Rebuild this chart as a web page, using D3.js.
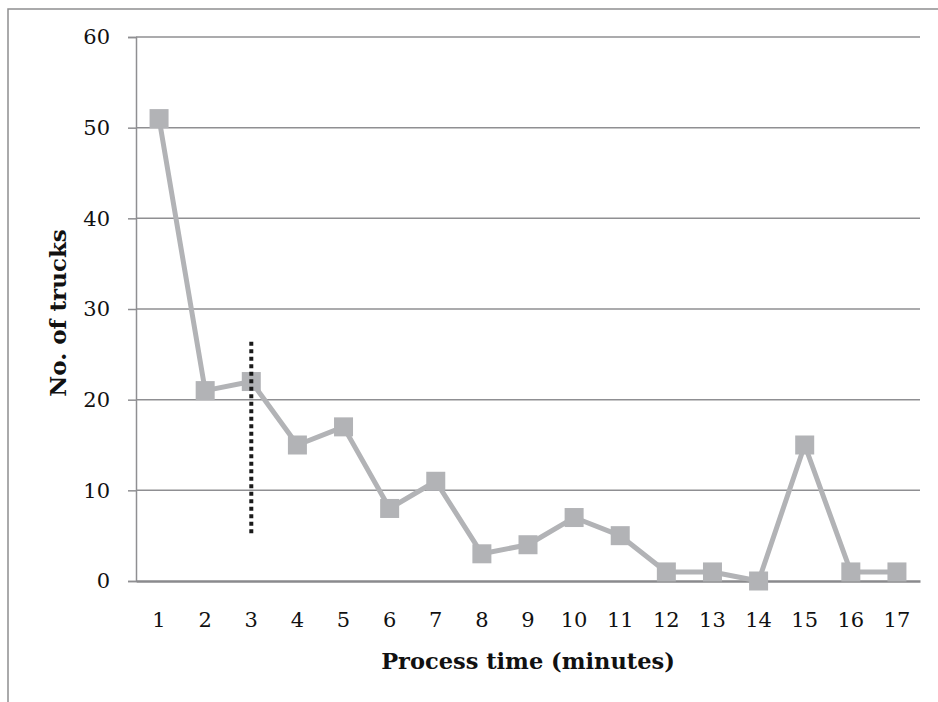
<!DOCTYPE html>
<html>
<head>
<meta charset="utf-8">
<script src="https://cdn.jsdelivr.net/npm/d3@7"></script>
<style>
  html, body { margin: 0; padding: 0; background: #fff; }
  svg { display: block; }
  text { font-family: "DejaVu Serif", "Liberation Serif", serif; fill: #111; }
</style>
</head>
<body>
<svg id="chart" width="938" height="702"></svg>
<script>
// Process time categories (minutes) and truck counts
const minutes = ["1","2","3","4","5","6","7","8","9","10","11","12","13","14","15","16","17"];
const trucks  = [51, 21, 22, 15, 17, 8, 11, 3, 4, 7, 5, 1, 1, 0, 15, 1, 1];
const yTicks  = [0, 10, 20, 30, 40, 50, 60];
// Vertical dotted marker at minute 3, spanning these counts
const markerCategory = "3";
const markerRange = [5.2, 26.4];

const svg = d3.select("#chart");
const W = 938, H = 702;
const m = { left: 136, right: 18, top: 37, bottom: 121 };

// chart frame
svg.append("rect")
  .attr("x", 8).attr("y", 9)
  .attr("width", W + 20).attr("height", H + 20)
  .attr("fill", "none").attr("stroke", "#8e8e90").attr("stroke-width", 1.5);

const x = d3.scaleBand().domain(minutes).range([m.left, W - m.right]).padding(0);
const y = d3.scaleLinear().domain([0, 60]).range([H - m.bottom, m.top]);

// horizontal gridlines
svg.append("g").selectAll("line").data(yTicks.filter(d => d > 0)).join("line")
  .attr("x1", m.left).attr("x2", W - m.right)
  .attr("y1", d => y(d)).attr("y2", d => y(d))
  .attr("stroke", "#8f8f92").attr("stroke-width", 1.5);

// y axis
const yAxis = svg.append("g").attr("transform", `translate(${m.left},0)`)
  .call(d3.axisLeft(y).tickValues(yTicks).tickSize(8).tickPadding(18).tickFormat(d3.format("d")));
yAxis.select(".domain").attr("stroke", "#8f8f92").attr("stroke-width", 1.5);
yAxis.selectAll(".tick line").attr("stroke", "#8f8f92").attr("stroke-width", 1.5);
yAxis.selectAll(".tick text").attr("font-size", 21).attr("fill", "#111")
  .attr("font-family", "DejaVu Serif, serif");

// x axis
const xAxis = svg.append("g").attr("transform", `translate(0,${y(0)})`)
  .call(d3.axisBottom(x).tickSize(0).tickPadding(31));
xAxis.select(".domain").attr("stroke", "#8a8a8d").attr("stroke-width", 2.5);
xAxis.selectAll(".tick text").attr("font-size", 21).attr("fill", "#111")
  .attr("font-family", "DejaVu Serif, serif");

const cx = d => x(d) + x.bandwidth() / 2;

// series line
svg.append("path")
  .datum(trucks)
  .attr("fill", "none")
  .attr("stroke", "#b2b3b6")
  .attr("stroke-width", 5)
  .attr("stroke-linejoin", "round")
  .attr("d", d3.line().x((d, i) => cx(minutes[i])).y(d => y(d)));

// square markers
const ms = 19;
svg.append("g").selectAll("rect").data(trucks).join("rect")
  .attr("x", (d, i) => cx(minutes[i]) - ms / 2)
  .attr("y", d => y(d) - ms / 2)
  .attr("width", ms).attr("height", ms)
  .attr("fill", "#b2b3b6");

// dotted marker line
svg.append("line")
  .attr("x1", cx(markerCategory)).attr("x2", cx(markerCategory))
  .attr("y1", y(markerRange[1])).attr("y2", y(markerRange[0]))
  .attr("stroke", "#1a1a1a").attr("stroke-width", 4)
  .attr("stroke-dasharray", "4,3.5");

// axis titles
svg.append("text")
  .attr("x", (m.left + W - m.right) / 2).attr("y", 669)
  .attr("text-anchor", "middle")
  .attr("font-size", 22.5).attr("font-weight", "bold")
  .text("Process time (minutes)");

svg.append("text")
  .attr("transform", `translate(66,${313}) rotate(-90)`)
  .attr("text-anchor", "middle")
  .attr("font-size", 23).attr("font-weight", "bold")
  .text("No. of trucks");
</script>
</body>
</html>
